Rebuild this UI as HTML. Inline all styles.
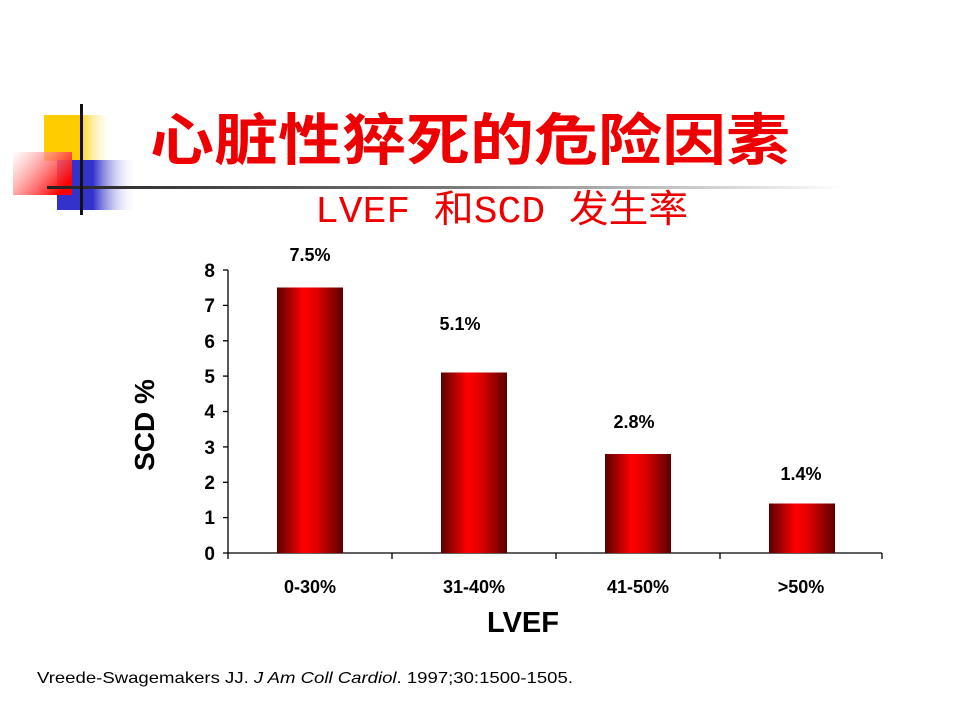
<!DOCTYPE html>
<html><head><meta charset="utf-8"><style>html,body{margin:0;padding:0;background:#fff;width:960px;height:720px;overflow:hidden}</style></head>
<body>
<svg width="960" height="720" xmlns="http://www.w3.org/2000/svg">
<defs>
<linearGradient id="yel" x1="0" x2="1"><stop offset="0" stop-color="#fc0"/><stop offset="0.5" stop-color="#fc0"/><stop offset="1" stop-color="#fff" stop-opacity="0"/></linearGradient>
<linearGradient id="blu" x1="0" x2="1"><stop offset="0" stop-color="#33c"/><stop offset="0.45" stop-color="#33c"/><stop offset="1" stop-color="#fff" stop-opacity="0"/></linearGradient>
<linearGradient id="red" x1="0" x2="1" y1="0" y2="0.6"><stop offset="0" stop-color="#fff" stop-opacity="0.6"/><stop offset="1" stop-color="#f00"/></linearGradient>
<linearGradient id="hl" x1="0" x2="1"><stop offset="0" stop-color="#222"/><stop offset="0.5" stop-color="#777"/><stop offset="1" stop-color="#fff"/></linearGradient>
<linearGradient id="bar" x1="0" x2="1"><stop offset="0" stop-color="#5a0000"/><stop offset="0.4" stop-color="#ff0000"/><stop offset="0.6" stop-color="#e00000"/><stop offset="1" stop-color="#5a0000"/></linearGradient>
</defs>
<rect x="44" y="115" width="70" height="46" fill="url(#yel)"/>
<rect x="57" y="160" width="80" height="50" fill="url(#blu)"/>
<rect x="13" y="152" width="59" height="43" fill="url(#red)"/>
<rect x="47" y="186" width="800" height="3" fill="url(#hl)"/>
<rect x="80" y="104" width="3" height="111" fill="#111"/>
<text x="150" y="160" font-family="'Liberation Sans','Noto Sans CJK SC',sans-serif" font-weight="bold" font-size="56" fill="#e00" textLength="640" lengthAdjust="spacingAndGlyphs">心脏性猝死的危险因素</text>
<text x="315" y="222" font-family="'Liberation Mono','Noto Sans CJK SC',monospace" font-size="38" fill="#e00" textLength="373" lengthAdjust="spacingAndGlyphs">LVEF 和SCD 发生率</text>
<g stroke="#000" stroke-width="1.3" fill="none">
<line x1="228" y1="270" x2="228" y2="553"/>
<line x1="228" y1="553" x2="882" y2="553"/>
<line x1="223" y1="270" x2="228" y2="270"/><line x1="223" y1="305.4" x2="228" y2="305.4"/><line x1="223" y1="340.8" x2="228" y2="340.8"/><line x1="223" y1="376.1" x2="228" y2="376.1"/><line x1="223" y1="411.5" x2="228" y2="411.5"/><line x1="223" y1="446.9" x2="228" y2="446.9"/><line x1="223" y1="482.3" x2="228" y2="482.3"/><line x1="223" y1="517.6" x2="228" y2="517.6"/><line x1="223" y1="553" x2="228" y2="553"/>
<line x1="228" y1="553" x2="228" y2="559"/><line x1="392" y1="553" x2="392" y2="559"/><line x1="556" y1="553" x2="556" y2="559"/><line x1="720" y1="553" x2="720" y2="559"/><line x1="882" y1="553" x2="882" y2="559"/>
</g>
<g fill="url(#bar)">
<rect x="277" y="287.5" width="66" height="265.5"/>
<rect x="441" y="372.5" width="66" height="180.5"/>
<rect x="605" y="454" width="66" height="99"/>
<rect x="769" y="503.5" width="66" height="49.5"/>
</g>
<g font-family="'Liberation Sans',sans-serif" font-weight="bold" font-size="19" fill="#000" text-anchor="end">
<text x="215" y="277">8</text><text x="215" y="312">7</text><text x="215" y="348">6</text><text x="215" y="383">5</text><text x="215" y="418">4</text><text x="215" y="454">3</text><text x="215" y="489">2</text><text x="215" y="524">1</text><text x="215" y="560">0</text>
</g>
<g font-family="'Liberation Sans',sans-serif" font-weight="bold" font-size="18" fill="#000" text-anchor="middle">
<text x="310" y="261">7.5%</text><text x="460" y="330">5.1%</text><text x="634" y="428">2.8%</text><text x="801" y="480">1.4%</text>
<text x="310" y="593">0-30%</text><text x="474" y="593">31-40%</text><text x="638" y="593">41-50%</text><text x="801" y="593">&gt;50%</text>
<text x="523" y="632" font-size="29">LVEF</text>
<text x="0" y="0" font-size="28" transform="translate(154,425) rotate(-90)">SCD %</text>
</g>
<text x="37" y="683" font-family="'Liberation Sans',sans-serif" font-size="16" fill="#000" textLength="536" lengthAdjust="spacingAndGlyphs">Vreede-Swagemakers JJ. <tspan font-style="italic">J Am Coll Cardiol</tspan>. 1997;30:1500-1505.</text>
</svg>
</body></html>
